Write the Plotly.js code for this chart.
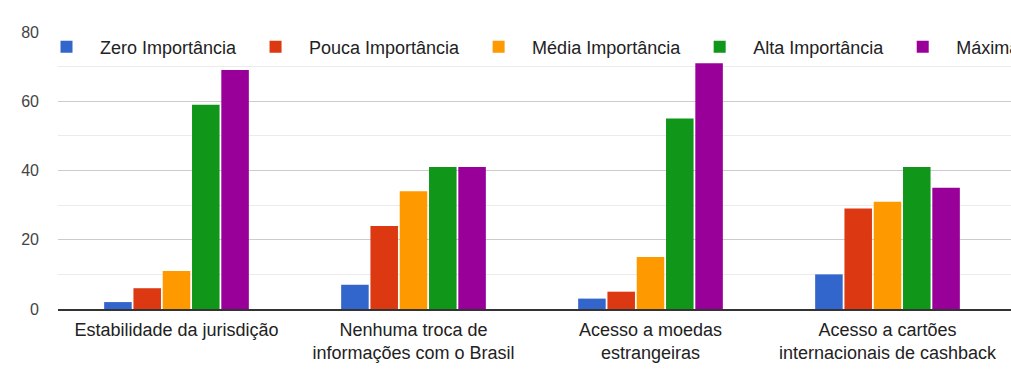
<!DOCTYPE html>
<html>
<head>
<meta charset="utf-8">
<script src="https://cdn.plot.ly/plotly-3.0.1.min.js"></script>
<style>
html,body{margin:0;padding:0;overflow:hidden;background:#fff;}
#chart{width:1500px;height:375px;}
</style>
</head>
<body>
<div id="chart"></div>
<script>
const categories = [
  "Estabilidade da jurisdição",
  "Nenhuma troca de<br>informações com o Brasil",
  "Acesso a moedas<br>estrangeiras",
  "Acesso a cartões<br>internacionais de cashback"
];
const seriesNames = ["Zero Importância", "Pouca Importância", "Média Importância", "Alta Importância", "Máxima Importância"];
const zeroImportancia = [2, 7, 3, 10];
const poucaImportancia = [6, 24, 5, 29];
const mediaImportancia = [11, 34, 15, 31];
const altaImportancia = [59, 41, 55, 41];
const maximaImportancia = [69, 41, 71, 35];
const colors = ["#3366cc", "#dc3912", "#ff9900", "#109618", "#990099"];
const yTicks = [0, 20, 40, 60, 80];

const series = [zeroImportancia, poucaImportancia, mediaImportancia, altaImportancia, maximaImportancia];
const traces = series.map((vals, i) => ({
  type: "bar",
  name: seriesNames[i],
  x: categories,
  y: vals,
  marker: {color: colors[i], line: {width: 0}},
  hoverinfo: "none"
}));

const W = 1500, left = 58;
const catPx = 237;
const FONT = "Arial, 'Liberation Sans', sans-serif";
const layout = {
  width: W,
  height: 375,
  margin: {l: left, r: 0, t: 32, b: 66, autoexpand: false},
  paper_bgcolor: "#fff",
  plot_bgcolor: "#fff",
  font: {family: FONT, color: "#222"},
  barmode: "group",
  bargap: 0.382,
  bargroupgap: 0.06,
  showlegend: true,
  legend: {
    orientation: "h",
    xref: "container",
    yref: "container",
    x: 33 / W,
    xanchor: "left",
    y: 1 - 47 / 375,
    yanchor: "middle",
    itemwidth: 57,
    font: {size: 18, color: "#222", family: FONT},
    bgcolor: "rgba(0,0,0,0)",
    itemclick: false
  },
  xaxis: {
    type: "category",
    range: [-0.5, -0.5 + (W - left) / catPx],
    showgrid: false,
    showline: true,
    linecolor: "#333",
    linewidth: 2,
    ticks: "",
    ticklabelstandoff: 3,
    tickfont: {size: 18, color: "#222", family: FONT},
    fixedrange: true
  },
  yaxis: {
    range: [0, 80],
    tickvals: yTicks,
    ticktext: yTicks.map(String),
    showgrid: true,
    gridcolor: "#cccccc",
    gridwidth: 1,
    zeroline: false,
    showline: false,
    ticks: "",
    ticklabelstandoff: 18,
    tickfont: {size: 16, color: "#444", family: FONT},
    minor: {dtick: 10, showgrid: true, gridcolor: "#ebebeb", gridwidth: 1},
    fixedrange: true
  }
};

Plotly.newPlot("chart", traces, layout, {displayModeBar: false, staticPlot: true});
</script>
</body>
</html>
